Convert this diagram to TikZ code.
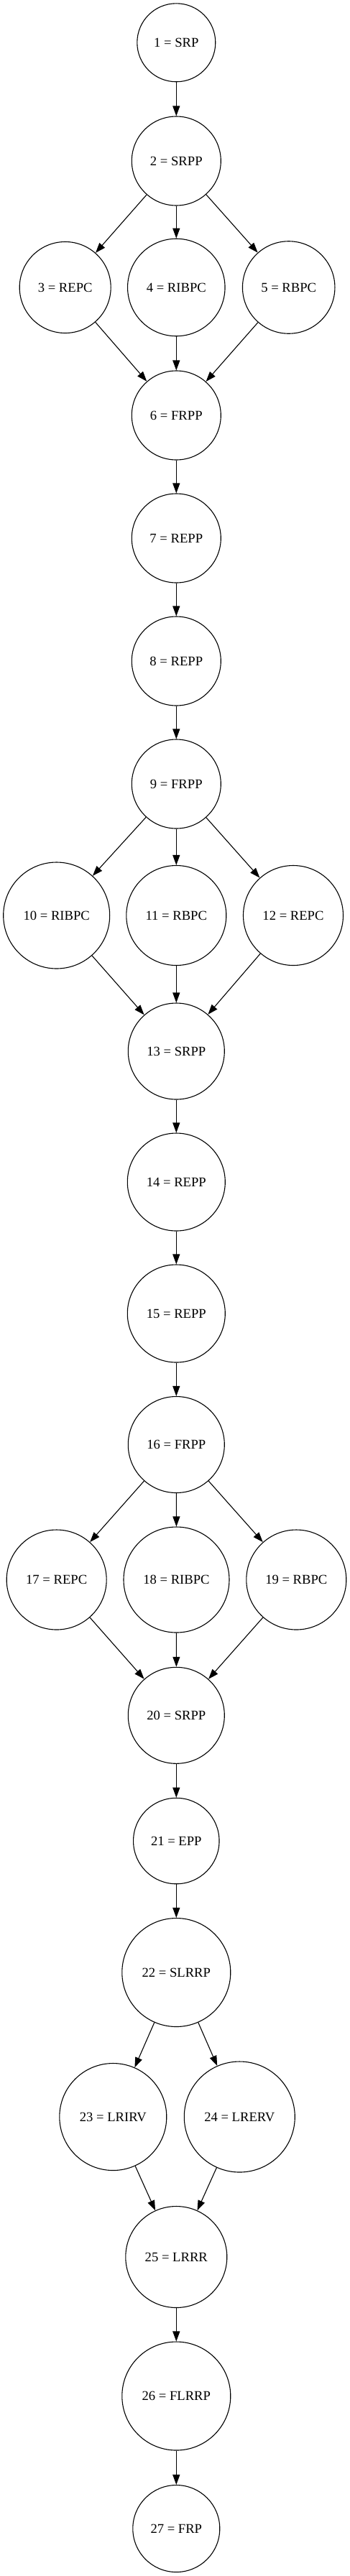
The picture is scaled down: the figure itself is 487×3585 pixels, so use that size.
\documentclass[tikz,border=0pt]{standalone}
\usepackage{fontspec}
\setmainfont{Liberation Serif}
\usetikzlibrary{arrows.meta}
\tikzset{
  every picture/.style={line width=1.1bp, x=1bp, y=-1bp},
  stage/.style={draw, circle, inner sep=0pt, minimum size=#1, font=\fontsize{18.7}{22}\selectfont},
  stage/.default=124bp,
  arrow/.style={-{Triangle[length=14bp, width=10bp]}, draw=black},
}
\begin{document}
\begin{tikzpicture}
  \useasboundingbox (0,0) rectangle (487,3585);
  % first block
  \node[stage=109bp] (n1) at (245.3,59.3) {1 = SRP};
  \node[stage] (n2) at (245.3,224) {2 = SRPP};
  \node[stage=127bp] (n3) at (90.7,400) {3 = REPC};
  \node[stage=135.5bp] (n4) at (245.3,400) {4 = RIBPC};
  \node[stage=128.5bp] (n5) at (401.7,400) {5 = RBPC};
  \node[stage] (n6) at (245.3,578) {6 = FRPP};
  \node[stage] (n7) at (245.3,749) {7 = REPP};
  \node[stage] (n8) at (245.3,920) {8 = REPP};
  % second block
  \node[stage] (n9) at (245.3,1091) {9 = FRPP};
  \node[stage=148bp] (n10) at (78.7,1274) {10 = RIBPC};
  \node[stage=139bp] (n11) at (245.3,1274) {11 = RBPC};
  \node[stage=139bp] (n12) at (408,1274) {12 = REPC};
  \node[stage=134bp] (n13) at (245.3,1463) {13 = SRPP};
  \node[stage=136bp] (n14) at (245.3,1645) {14 = REPP};
  \node[stage=136bp] (n15) at (245.3,1828) {15 = REPP};
  % third block
  \node[stage=134bp] (n16) at (245.3,2010.5) {16 = FRPP};
  \node[stage=139bp] (n17) at (78.7,2198.5) {17 = REPC};
  \node[stage=147bp] (n18) at (245.5,2198.5) {18 = RIBPC};
  \node[stage=139bp] (n19) at (412.3,2198.5) {19 = RBPC};
  \node[stage=134bp] (n20) at (245.3,2387.3) {20 = SRPP};
  \node[stage=119.5bp] (n21) at (245.3,2562) {21 = EPP};
  % last block
  \node[stage=151bp] (n22) at (245.3,2745) {22 = SLRRP};
  \node[stage=149bp] (n23) at (157.3,2946) {23 = LRIRV};
  \node[stage=154bp] (n24) at (333.3,2946) {24 = LRERV};
  \node[stage=141bp] (n25) at (245.3,3141) {25 = LRRR};
  \node[stage=151bp] (n26) at (245.3,3334.5) {26 = FLRRP};
  \node[stage=121bp] (n27) at (245.3,3519) {27 = FRP};
  % edges
  \foreach \a/\b in {1/2, 2/3, 2/4, 2/5, 3/6, 4/6, 5/6, 6/7, 7/8, 8/9,
                     9/10, 9/11, 9/12, 10/13, 11/13, 12/13, 13/14, 14/15, 15/16,
                     16/17, 16/18, 16/19, 17/20, 18/20, 19/20, 20/21, 21/22,
                     22/23, 22/24, 23/25, 24/25, 25/26, 26/27}
    \draw[arrow] (n\a) -- (n\b);
\end{tikzpicture}
\end{document}
